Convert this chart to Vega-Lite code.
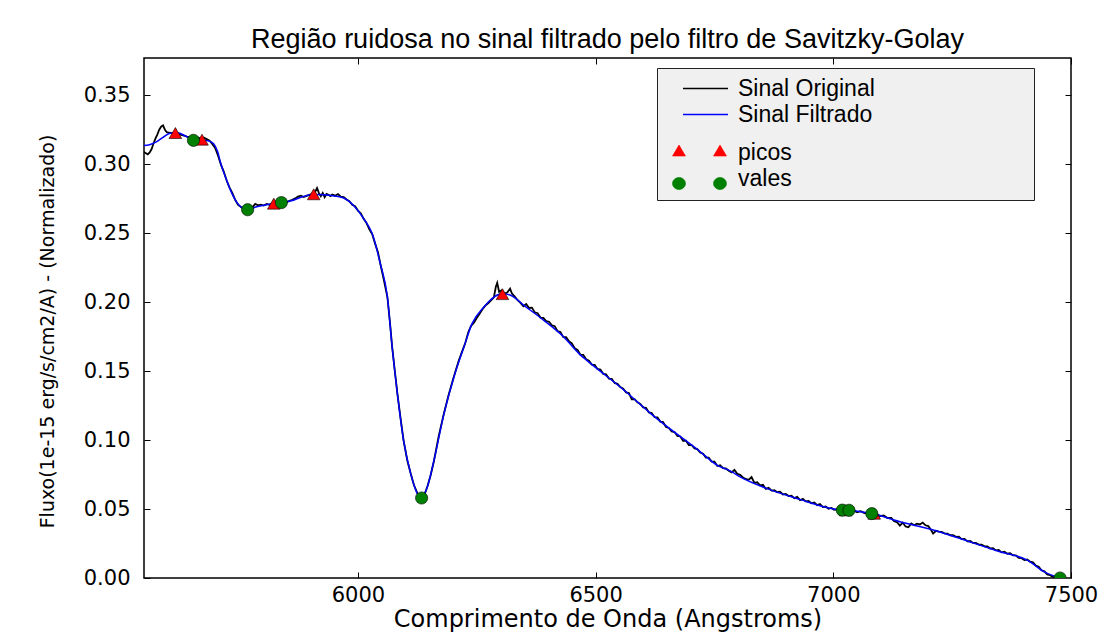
{
"$schema": "https://vega.github.io/schema/vega-lite/v6.json",
"width": 927,
"height": 520,
"autosize": {"type": "none"},
"padding": {"left": 144, "top": 58, "right": 28, "bottom": 59},
"background": "white",
"title": {"text": "Região ruidosa no sinal filtrado pelo filtro de Savitzky-Golay", "font": "Liberation Sans", "fontSize": 27, "fontWeight": "normal", "color": "black", "offset": 4, "anchor": "middle"},
"datasets": {
"orig": [
{"x":5550,"y":0.3088},{"x":5554,"y":0.3080},{"x":5558,"y":0.3072},{"x":5562,"y":0.3085},{"x":5566,"y":0.3110},{"x":5570,"y":0.3150},{"x":5574,"y":0.3185},{"x":5578,"y":0.3215},{"x":5582,"y":0.3250},{"x":5586,"y":0.3272},{"x":5590,"y":0.3282},{"x":5594,"y":0.3250},{"x":5598,"y":0.3232},{"x":5604,"y":0.3228},{"x":5610,"y":0.3226},{"x":5616,"y":0.3222},{"x":5622,"y":0.3220},{"x":5628,"y":0.3212},{"x":5634,"y":0.3208},{"x":5640,"y":0.3200},{"x":5646,"y":0.3196},{"x":5652,"y":0.3190},{"x":5658,"y":0.3180},{"x":5664,"y":0.3192},{"x":5670,"y":0.3186},{"x":5676,"y":0.3192},{"x":5682,"y":0.3182},{"x":5688,"y":0.3170},{"x":5694,"y":0.3145},{"x":5700,"y":0.3115},{"x":5706,"y":0.3060},{"x":5712,"y":0.2995},{"x":5718,"y":0.2945},{"x":5724,"y":0.2880},{"x":5730,"y":0.2830},{"x":5736,"y":0.2790},{"x":5742,"y":0.2740},{"x":5748,"y":0.2705},{"x":5754,"y":0.2690},{"x":5760,"y":0.2680},{"x":5766,"y":0.2672},{"x":5772,"y":0.2675},{"x":5778,"y":0.2688},{"x":5784,"y":0.2712},{"x":5790,"y":0.2702},{"x":5796,"y":0.2706},{"x":5802,"y":0.2700},{"x":5808,"y":0.2712},{"x":5814,"y":0.2706},{"x":5820,"y":0.2718},{"x":5826,"y":0.2712},{"x":5832,"y":0.2726},{"x":5838,"y":0.2720},{"x":5844,"y":0.2728},{"x":5850,"y":0.2724},{"x":5856,"y":0.2735},{"x":5862,"y":0.2742},{"x":5868,"y":0.2752},{"x":5874,"y":0.2765},{"x":5880,"y":0.2772},{"x":5886,"y":0.2762},{"x":5892,"y":0.2770},{"x":5898,"y":0.2778},{"x":5904,"y":0.2786},{"x":5910,"y":0.2800},{"x":5914,"y":0.2828},{"x":5918,"y":0.2790},{"x":5922,"y":0.2768},{"x":5926,"y":0.2792},{"x":5930,"y":0.2760},{"x":5934,"y":0.2785},{"x":5938,"y":0.2778},{"x":5942,"y":0.2768},{"x":5946,"y":0.2780},{"x":5952,"y":0.2772},{"x":5958,"y":0.2784},{"x":5964,"y":0.2764},{"x":5970,"y":0.2762},{"x":5976,"y":0.2744},{"x":5982,"y":0.2732},{"x":5988,"y":0.2706},{"x":5994,"y":0.2696},{"x":6000,"y":0.2664},{"x":6006,"y":0.2644},{"x":6012,"y":0.2604},{"x":6018,"y":0.2574},{"x":6024,"y":0.2528},{"x":6030,"y":0.2494},{"x":6036,"y":0.2426},{"x":6042,"y":0.2364},{"x":6047,"y":0.2280},{"x":6054,"y":0.2170},{"x":6062,"y":0.2037},{"x":6068,"y":0.1830},{"x":6072,"y":0.1675},{"x":6078,"y":0.1490},{"x":6083,"y":0.1337},{"x":6090,"y":0.1150},{"x":6096,"y":0.0998},{"x":6104,"y":0.0850},{"x":6111,"y":0.0757},{"x":6118,"y":0.0672},{"x":6125,"y":0.0615},{"x":6130,"y":0.0590},{"x":6134,"y":0.0582},{"x":6140,"y":0.0605},{"x":6146,"y":0.0662},{"x":6153,"y":0.0745},{"x":6160,"y":0.0850},{"x":6170,"y":0.1030},{"x":6181,"y":0.1195},{"x":6191,"y":0.1330},{"x":6202,"y":0.1462},{"x":6212,"y":0.1575},{"x":6220,"y":0.1650},{"x":6226,"y":0.1705},{"x":6232,"y":0.1780},{"x":6238,"y":0.1828},{"x":6244,"y":0.1850},{"x":6250,"y":0.1885},{"x":6256,"y":0.1915},{"x":6262,"y":0.1948},{"x":6268,"y":0.1975},{"x":6274,"y":0.1992},{"x":6280,"y":0.2012},{"x":6286,"y":0.2035},{"x":6290,"y":0.2110},{"x":6293,"y":0.2140},{"x":6297,"y":0.2075},{"x":6302,"y":0.2085},{"x":6308,"y":0.2062},{"x":6314,"y":0.2070},{"x":6320,"y":0.2098},{"x":6324,"y":0.2062},{"x":6330,"y":0.2040},{"x":6336,"y":0.2014},{"x":6342,"y":0.1994},{"x":6348,"y":0.1970},{"x":6354,"y":0.1986},{"x":6360,"y":0.1958},{"x":6366,"y":0.1960},{"x":6372,"y":0.1926},{"x":6378,"y":0.1920},{"x":6384,"y":0.1888},{"x":6390,"y":0.1886},{"x":6396,"y":0.1862},{"x":6402,"y":0.1858},{"x":6408,"y":0.1832},{"x":6414,"y":0.1826},{"x":6420,"y":0.1789},{"x":6426,"y":0.1784},{"x":6432,"y":0.1746},{"x":6438,"y":0.1746},{"x":6444,"y":0.1716},{"x":6450,"y":0.1701},{"x":6456,"y":0.1666},{"x":6462,"y":0.1654},{"x":6468,"y":0.1619},{"x":6474,"y":0.1618},{"x":6480,"y":0.1586},{"x":6486,"y":0.1576},{"x":6492,"y":0.1547},{"x":6498,"y":0.1546},{"x":6504,"y":0.1516},{"x":6510,"y":0.1511},{"x":6516,"y":0.1480},{"x":6522,"y":0.1476},{"x":6528,"y":0.1446},{"x":6534,"y":0.1444},{"x":6540,"y":0.1414},{"x":6546,"y":0.1408},{"x":6552,"y":0.1384},{"x":6558,"y":0.1372},{"x":6564,"y":0.1346},{"x":6570,"y":0.1341},{"x":6576,"y":0.1296},{"x":6582,"y":0.1296},{"x":6588,"y":0.1274},{"x":6594,"y":0.1262},{"x":6600,"y":0.1237},{"x":6606,"y":0.1234},{"x":6612,"y":0.1200},{"x":6618,"y":0.1196},{"x":6624,"y":0.1166},{"x":6630,"y":0.1164},{"x":6636,"y":0.1134},{"x":6642,"y":0.1131},{"x":6648,"y":0.1094},{"x":6654,"y":0.1088},{"x":6660,"y":0.1062},{"x":6666,"y":0.1058},{"x":6672,"y":0.1030},{"x":6678,"y":0.1026},{"x":6684,"y":0.0995},{"x":6690,"y":0.0996},{"x":6696,"y":0.0964},{"x":6702,"y":0.0964},{"x":6708,"y":0.0939},{"x":6714,"y":0.0934},{"x":6720,"y":0.0910},{"x":6726,"y":0.0901},{"x":6732,"y":0.0872},{"x":6738,"y":0.0872},{"x":6744,"y":0.0844},{"x":6750,"y":0.0844},{"x":6756,"y":0.0812},{"x":6762,"y":0.0818},{"x":6768,"y":0.0796},{"x":6774,"y":0.0794},{"x":6780,"y":0.0778},{"x":6786,"y":0.0766},{"x":6792,"y":0.0784},{"x":6798,"y":0.0756},{"x":6804,"y":0.0748},{"x":6810,"y":0.0729},{"x":6816,"y":0.0718},{"x":6822,"y":0.0712},{"x":6828,"y":0.0732},{"x":6834,"y":0.0689},{"x":6840,"y":0.0694},{"x":6846,"y":0.0672},{"x":6852,"y":0.0676},{"x":6858,"y":0.0646},{"x":6864,"y":0.0654},{"x":6870,"y":0.0634},{"x":6876,"y":0.0636},{"x":6882,"y":0.0622},{"x":6888,"y":0.0626},{"x":6894,"y":0.0606},{"x":6900,"y":0.0610},{"x":6906,"y":0.0594},{"x":6912,"y":0.0596},{"x":6918,"y":0.0579},{"x":6924,"y":0.0588},{"x":6930,"y":0.0564},{"x":6936,"y":0.0574},{"x":6942,"y":0.0556},{"x":6948,"y":0.0558},{"x":6954,"y":0.0542},{"x":6960,"y":0.0548},{"x":6966,"y":0.0528},{"x":6972,"y":0.0536},{"x":6978,"y":0.0514},{"x":6984,"y":0.0518},{"x":6990,"y":0.0502},{"x":6996,"y":0.0508},{"x":7002,"y":0.0494},{"x":7010,"y":0.0500},{"x":7018,"y":0.0488},{"x":7026,"y":0.0497},{"x":7034,"y":0.0486},{"x":7042,"y":0.0491},{"x":7050,"y":0.0477},{"x":7058,"y":0.0485},{"x":7066,"y":0.0469},{"x":7074,"y":0.0475},{"x":7082,"y":0.0461},{"x":7090,"y":0.0465},{"x":7098,"y":0.0449},{"x":7106,"y":0.0453},{"x":7114,"y":0.0435},{"x":7122,"y":0.0435},{"x":7128,"y":0.0412},{"x":7134,"y":0.0404},{"x":7140,"y":0.0380},{"x":7146,"y":0.0402},{"x":7152,"y":0.0374},{"x":7158,"y":0.0368},{"x":7164,"y":0.0396},{"x":7170,"y":0.0382},{"x":7176,"y":0.0394},{"x":7182,"y":0.0388},{"x":7188,"y":0.0402},{"x":7194,"y":0.0382},{"x":7200,"y":0.0376},{"x":7206,"y":0.0346},{"x":7210,"y":0.0322},{"x":7216,"y":0.0342},{"x":7222,"y":0.0336},{"x":7228,"y":0.0334},{"x":7234,"y":0.0324},{"x":7240,"y":0.0322},{"x":7246,"y":0.0310},{"x":7252,"y":0.0310},{"x":7258,"y":0.0298},{"x":7264,"y":0.0299},{"x":7270,"y":0.0282},{"x":7276,"y":0.0284},{"x":7282,"y":0.0266},{"x":7288,"y":0.0268},{"x":7294,"y":0.0254},{"x":7300,"y":0.0254},{"x":7306,"y":0.0242},{"x":7312,"y":0.0242},{"x":7318,"y":0.0230},{"x":7324,"y":0.0230},{"x":7330,"y":0.0214},{"x":7336,"y":0.0216},{"x":7342,"y":0.0200},{"x":7348,"y":0.0204},{"x":7354,"y":0.0186},{"x":7360,"y":0.0190},{"x":7366,"y":0.0176},{"x":7372,"y":0.0180},{"x":7378,"y":0.0164},{"x":7384,"y":0.0164},{"x":7390,"y":0.0146},{"x":7396,"y":0.0144},{"x":7402,"y":0.0130},{"x":7408,"y":0.0134},{"x":7414,"y":0.0118},{"x":7420,"y":0.0114},{"x":7426,"y":0.0090},{"x":7432,"y":0.0082},{"x":7438,"y":0.0056},{"x":7444,"y":0.0048},{"x":7450,"y":0.0026},{"x":7456,"y":0.0020},{"x":7462,"y":0.0008},{"x":7468,"y":0.0006},{"x":7474,"y":0.0001},{"x":7478,"y":0.0000}
],
"filt": [
{"x":5550,"y":0.3135},{"x":5560,"y":0.3140},{"x":5575,"y":0.3160},{"x":5590,"y":0.3195},{"x":5605,"y":0.3225},{"x":5620,"y":0.3228},{"x":5640,"y":0.3200},{"x":5655,"y":0.3180},{"x":5672,"y":0.3175},{"x":5685,"y":0.3170},{"x":5696,"y":0.3150},{"x":5705,"y":0.3090},{"x":5711,"y":0.3010},{"x":5720,"y":0.2920},{"x":5732,"y":0.2810},{"x":5746,"y":0.2720},{"x":5758,"y":0.2680},{"x":5768,"y":0.2670},{"x":5785,"y":0.2690},{"x":5805,"y":0.2705},{"x":5823,"y":0.2714},{"x":5840,"y":0.2722},{"x":5860,"y":0.2735},{"x":5880,"y":0.2760},{"x":5907,"y":0.2780},{"x":5930,"y":0.2778},{"x":5950,"y":0.2770},{"x":5970,"y":0.2755},{"x":5991,"y":0.2700},{"x":6012,"y":0.2606},{"x":6030,"y":0.2497},{"x":6047,"y":0.2280},{"x":6062,"y":0.2037},{"x":6072,"y":0.1675},{"x":6083,"y":0.1337},{"x":6096,"y":0.0998},{"x":6111,"y":0.0757},{"x":6125,"y":0.0612},{"x":6134,"y":0.0580},{"x":6146,"y":0.0660},{"x":6160,"y":0.0853},{"x":6181,"y":0.1190},{"x":6202,"y":0.1457},{"x":6223,"y":0.1675},{"x":6240,"y":0.1844},{"x":6265,"y":0.1965},{"x":6286,"y":0.2037},{"x":6304,"y":0.2060},{"x":6321,"y":0.2050},{"x":6349,"y":0.1977},{"x":6391,"y":0.1868},{"x":6433,"y":0.1747},{"x":6465,"y":0.1627},{"x":6490,"y":0.1554},{"x":6560,"y":0.1361},{"x":6616,"y":0.1192},{"x":6721,"y":0.0913},{"x":6756,"y":0.0817},{"x":6784,"y":0.0775},{"x":6805,"y":0.0732},{"x":6861,"y":0.0648},{"x":6931,"y":0.0568},{"x":6988,"y":0.0510},{"x":7019,"y":0.0491},{"x":7033,"y":0.0490},{"x":7081,"y":0.0467},{"x":7142,"y":0.0406},{"x":7212,"y":0.0346},{"x":7282,"y":0.0268},{"x":7352,"y":0.0189},{"x":7409,"y":0.0128},{"x":7444,"y":0.0044},{"x":7477,"y":0.0000}
],
"picos": [
{"x":5616,"y":0.3226},{"x":5672,"y":0.3178},{"x":5823,"y":0.2714},{"x":5907,"y":0.2782},{"x":6304,"y":0.2058},{"x":7026,"y":0.0491},{"x":7086,"y":0.0466}
],
"vales": [
{"x":5654,"y":0.3173},{"x":5768,"y":0.2670},{"x":5839,"y":0.2722},{"x":6134,"y":0.0580},{"x":7019,"y":0.0492},{"x":7033,"y":0.0491},{"x":7081,"y":0.0467},{"x":7477,"y":0.0}
]
},
"layer": [
{
"data": {"name": "orig"},
"mark": {"type": "line", "strokeWidth": 1.8, "clip": true},
"encoding": {
"x": {"field": "x", "type": "quantitative", "scale": {"domain": [5550, 7500], "nice": false, "zero": false}, "axis": {"orient": "top", "labels": false, "values": [6000, 6500, 7000, 7500], "tickSize": -6, "title": null}},
"y": {"field": "y", "type": "quantitative", "scale": {"domain": [0, 0.377], "nice": false, "zero": false}, "axis": {"orient": "right", "labels": false, "values": [0.05, 0.1, 0.15, 0.2, 0.25, 0.3, 0.35], "tickSize": -6, "title": null}},
"color": {"datum": "Sinal Original", "type": "nominal",
"scale": {"domain": ["Sinal Original", "Sinal Filtrado", "picos", "vales"], "range": ["black", "blue", "red", "green"]},
"legend": {
"orient": "none", "legendX": 513, "legendY": 10,
"title": "MMMMMMMMMMMMMMM", "titleOrient": "right", "titleColor": "transparent", "titleFont": "Liberation Sans", "titleFontSize": 12, "titlePadding": 0,
"fillColor": "#f0f0f0", "strokeColor": "#222222", "padding": 9,
"labelFont": "Liberation Sans", "labelFontSize": 23, "labelColor": "black", "labelLimit": 800,
"labelOffset": 21, "symbolOffset": 28, "symbolSize": 100, "rowPadding": 2,
"encode": {
"symbols": {"update": {
"shape": {"signal": "datum.value == 'picos' ? 'M-6.6,3.1L-5.3,0.9L-4,3.1Z M1.6,3.1L2.9,0.9L4.2,3.1Z' : datum.value == 'vales' ? 'M-4,0A1.3,1.2,0,1,1,-6.6,0A1.3,1.2,0,1,1,-4,0Z M4.2,0A1.3,1.2,0,1,1,1.6,0A1.3,1.2,0,1,1,4.2,0Z' : 'M-4.5,0H4.5'"},
"fill": {"signal": "datum.value == 'picos' ? 'red' : datum.value == 'vales' ? 'green' : 'transparent'"},
"stroke": {"signal": "datum.value == 'Sinal Filtrado' ? '#3333ff' : 'black'"},
"strokeWidth": {"signal": "datum.value == 'picos' || datum.value == 'vales' ? 0.6 : 1.3"},
"size": {"value": 100},
"opacity": {"value": 1}
}},
"labels": {"update": {
"dy": {"signal": "datum.value == 'picos' ? 12 : datum.value == 'vales' ? -5 : 0"}
}}
}
}
}
}
},
{
"data": {"name": "filt"},
"mark": {"type": "line", "strokeWidth": 1.5, "interpolate": "monotone", "clip": true},
"encoding": {
"x": {"field": "x", "type": "quantitative", "axis": {"orient": "bottom", "values": [6000, 6500, 7000, 7500], "format": "d", "labelFlush": false, "tickSize": -6, "labelPadding": 12, "labelFontSize": 21, "title": "Comprimento de Onda (Angstroms)", "titleFontSize": 24, "titlePadding": 2}},
"y": {"field": "y", "type": "quantitative", "axis": {"orient": "left", "values": [0, 0.05, 0.1, 0.15, 0.2, 0.25, 0.3, 0.35], "format": ".2f", "labelFlush": false, "tickSize": -6, "labelPadding": 20, "labelFontSize": 21, "title": "Fluxo(1e-15 erg/s/cm2/A) - (Normalizado)", "titleFontSize": 19, "titlePadding": 26, "titleY": 273}},
"color": {"datum": "Sinal Filtrado", "type": "nominal"}
}
},
{
"data": {"name": "picos"},
"mark": {"type": "point", "shape": "triangle-up", "filled": true, "size": 160, "stroke": "black", "strokeWidth": 0.6, "opacity": 1, "clip": true},
"encoding": {
"x": {"field": "x", "type": "quantitative", "axis": null},
"y": {"field": "y", "type": "quantitative", "axis": null},
"color": {"datum": "picos", "type": "nominal"}
}
},
{
"data": {"name": "vales"},
"mark": {"type": "point", "shape": "circle", "filled": true, "size": 150, "stroke": "black", "strokeWidth": 0.6, "opacity": 1, "clip": true},
"encoding": {
"x": {"field": "x", "type": "quantitative", "axis": null},
"y": {"field": "y", "type": "quantitative", "axis": null},
"color": {"datum": "vales", "type": "nominal"}
}
}
],
"resolve": {"axis": {"x": "independent", "y": "independent"}},
"config": {
"view": {"stroke": "black", "strokeWidth": 1.5},
"axis": {"labelFont": "DejaVu Sans", "labelFontSize": 20, "labelColor": "black", "tickColor": "black", "tickWidth": 1, "titleFont": "DejaVu Sans", "titleFontWeight": "normal", "titleColor": "black", "grid": false, "domain": false}
}
}
